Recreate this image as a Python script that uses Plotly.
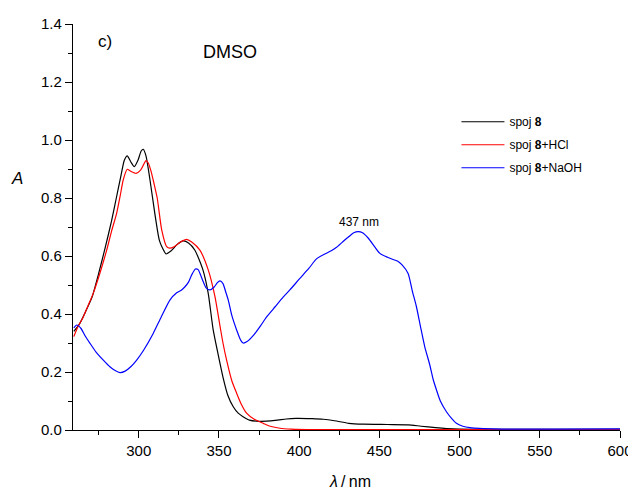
import plotly.graph_objects as go

# ---- data ----
wl_black = [259.5, 263, 267, 271, 275, 279, 283, 286, 289, 291, 292.8, 295, 297.2, 299.5, 301.5, 302.8,
            304.5, 307, 310, 312.8, 315, 317, 320, 324, 327.7, 331, 335, 340, 343.3, 346.4, 349.5,
            352.6, 355.5, 358.9, 362, 365, 369, 375, 385, 392, 398, 408, 415, 422, 431, 440, 455,
            468, 476, 485, 492, 500, 520, 600]
a_black = [0.340, 0.365, 0.41, 0.46, 0.54, 0.627, 0.72, 0.80, 0.88, 0.93, 0.945, 0.925, 0.908, 0.93,
           0.962, 0.968, 0.945, 0.862, 0.747, 0.655, 0.625, 0.607, 0.617, 0.64, 0.652, 0.645, 0.62,
           0.552, 0.471, 0.345, 0.26, 0.18, 0.12, 0.08, 0.058, 0.046, 0.034, 0.030, 0.033, 0.038,
           0.040, 0.039, 0.037, 0.032, 0.023, 0.020, 0.019, 0.018, 0.013, 0.008, 0.005, 0.003,
           0.002, 0.002]

wl_red = [259.5, 262, 265.4, 268.5, 271.6, 276, 280, 283, 286.2, 288.5, 290.3, 292.8, 295, 298.3,
          301, 303, 304.5, 306, 307.5, 309.5, 311.5, 314.3, 317.4, 319.4, 322, 326, 329.8, 333,
          338.1, 343.3, 347.5, 350.6, 352.5, 354.8, 358, 361, 364, 367.2, 372, 377.6, 382, 388,
          395, 410, 600]
a_red = [0.322, 0.355, 0.39, 0.43, 0.471, 0.545, 0.62, 0.685, 0.747, 0.81, 0.862, 0.899, 0.892,
         0.885, 0.895, 0.915, 0.929, 0.92, 0.895, 0.85, 0.80, 0.69, 0.632, 0.627, 0.632, 0.648,
         0.657, 0.648, 0.62, 0.552, 0.46, 0.36, 0.30, 0.24, 0.17, 0.127, 0.088, 0.058, 0.037,
         0.023, 0.013, 0.006, 0.003, 0.001, 0.001]

wl_blue = [259.5, 261.3, 264, 266.5, 269.6, 273.5, 277.9, 282, 285, 288.3, 291.5, 295, 298.7, 303,
           309, 314, 319.4, 323.6, 326.7, 328.8, 331, 333, 335.3, 337, 338.5, 340.2, 342, 344.4,
           347, 349, 350.6, 352.5, 354, 355.8, 358, 361, 363.5, 365.1, 367.5, 372, 376, 379.7,
           385, 390, 394.2, 400, 406, 410.8, 416, 420, 423.3, 427, 431, 434, 436.8, 439.5, 443,
           447, 450.3, 454, 458.6, 461.5, 464, 467.9, 470.5, 473.1, 475.5, 478.3, 481.4, 483.5,
           485.6, 488, 491.8, 495, 498, 502, 506.4, 515, 527, 560, 600]
a_blue = [0.352, 0.362, 0.35, 0.325, 0.299, 0.268, 0.241, 0.218, 0.206, 0.198, 0.203, 0.218, 0.241,
          0.275, 0.333, 0.39, 0.448, 0.473, 0.483, 0.494, 0.51, 0.535, 0.555, 0.553, 0.535, 0.511,
          0.49, 0.483, 0.493, 0.508, 0.514, 0.505, 0.48, 0.448, 0.395, 0.345, 0.31, 0.30, 0.305,
          0.33, 0.36, 0.39, 0.425, 0.458, 0.483, 0.52, 0.557, 0.59, 0.607, 0.618, 0.63, 0.648,
          0.667, 0.68, 0.684, 0.68, 0.662, 0.632, 0.609, 0.598, 0.588, 0.582, 0.57, 0.54, 0.48,
          0.425, 0.36, 0.287, 0.225, 0.175, 0.138, 0.10, 0.063, 0.04, 0.023, 0.013, 0.008, 0.005,
          0.003, 0.003, 0.004]

names = ["spoj <b>8</b>", "spoj <b>8</b>+HCl", "spoj <b>8</b>+NaOH"]
colors = ["#000000", "#ff0000", "#0000ff"]
x_ticks = [300, 350, 400, 450, 500, 550, 600]
y_ticks = [0.0, 0.2, 0.4, 0.6, 0.8, 1.0, 1.2, 1.4]
peak_label = "437 nm"
peak_wl = 437
peak_a = 0.716

FONT = "Liberation Sans, Arial, sans-serif"

fig = go.Figure()
for i, (xs, ys) in enumerate([(wl_black, a_black), (wl_red, a_red), (wl_blue, a_blue)]):
    fig.add_trace(go.Scatter(x=xs, y=ys, mode="lines", name=names[i],
                             legendgroup=str(i),
                             line=dict(color=colors[i], width=1.2, shape="spline", smoothing=0.6)))

# the page body has an 8px margin, so the figure is drawn 8px in from the top-left corner
fig.update_layout(
    width=628, height=483,
    margin=dict(l=65, r=16, t=16, b=61, autoexpand=False),
    paper_bgcolor="white", plot_bgcolor="white",
    font=dict(family=FONT, color="#000000"),
    showlegend=True,
    legend=dict(x=0.701, y=0.795, xanchor="left", yanchor="top",
                bgcolor="rgba(0,0,0,0)", font=dict(size=12, family=FONT),
                tracegroupgap=4, itemwidth=43),
    xaxis=dict(range=[259, 600], showgrid=False, zeroline=False, automargin=False,
               showline=True, linecolor="black", linewidth=1.3,
               ticks="outside", tickcolor="black", ticklen=7, tickwidth=1.3,
               tickvals=x_ticks, tickfont=dict(size=15, family=FONT),
               minor=dict(ticks="outside", dtick=25, tick0=0, ticklen=4, tickcolor="black", tickwidth=1.3),
               title=None),
    yaxis=dict(range=[0, 1.4], showgrid=False, zeroline=False, automargin=False,
               showline=True, linecolor="black", linewidth=1.3,
               ticks="outside", tickcolor="black", ticklen=7, tickwidth=1.3,
               tickvals=y_ticks, tickformat=".1f", tickfont=dict(size=15, family=FONT),
               minor=dict(ticks="outside", dtick=0.1, tick0=0, ticklen=4, tickcolor="black", tickwidth=1.3),
               title=None),
)

fig.add_annotation(x=peak_wl, y=peak_a, xref="x", yref="y", text=peak_label, showarrow=False,
                   font=dict(size=12, family=FONT), xanchor="center", yanchor="middle")
fig.add_annotation(x=0.042, y=0.956, xref="paper", yref="paper", text="c)", showarrow=False,
                   font=dict(size=17, family=FONT), xanchor="left", yanchor="middle")
fig.add_annotation(x=0.287, y=0.932, xref="paper", yref="paper", text="DMSO", showarrow=False,
                   font=dict(size=18, family=FONT), xanchor="center", yanchor="middle")
fig.add_annotation(x=-0.103, y=0.62, xref="paper", yref="paper", text="<i>A</i>", showarrow=False,
                   font=dict(size=17, family=FONT), xanchor="center", yanchor="middle")
fig.add_annotation(x=0.506, y=-0.127, xref="paper", yref="paper", text="<i>λ</i>\u2009/\u2009nm",
                   showarrow=False, font=dict(size=16, family=FONT), xanchor="center", yanchor="middle")

fig.write_html("out.html")
